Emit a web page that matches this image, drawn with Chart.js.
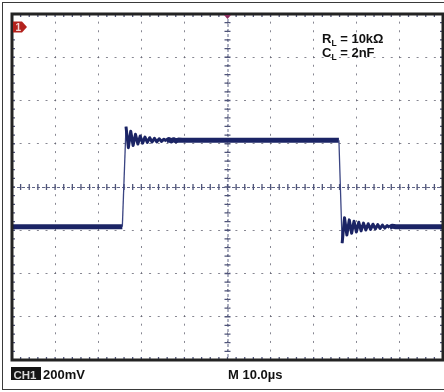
<!DOCTYPE html>
<html>
<head>
<meta charset="utf-8">
<script src="https://cdn.jsdelivr.net/npm/chart.js@4.4.0/dist/chart.umd.min.js"></script>
<style>
html,body{margin:0;padding:0;background:#fff;}
#wrap{width:444px;height:392px;position:relative;}
</style>
</head>
<body>
<div id="wrap"><canvas id="c" width="444" height="392"></canvas></div>
<script>
const timeUs = [0, 25.6, 26.45, 27.0, 27.55, 28.1, 28.65, 29.2, 29.75, 30.3, 30.85, 31.4, 31.95, 32.5, 33.05, 33.6, 34.15, 34.7, 35.25, 35.8, 36.35, 36.9, 37.45, 38.0, 38.6, 39.5,
  75.85, 76.6, 77.15, 77.7, 78.25, 78.8, 79.35, 79.9, 80.45, 81.0, 81.55, 82.1, 82.65, 83.2, 83.75, 84.3, 84.85, 85.4, 85.95, 86.5, 87.05, 87.6, 88.2, 89.0, 100];
const ch1mV = [-184, -184, 279, 182, 258, 192, 244, 199, 236, 203, 231, 206, 228, 208, 225, 209, 223, 211, 221, 212, 220, 213, 219, 214, 217, 216,
  216, -260, -142, -222, -152, -214, -158, -208, -163, -203, -167, -199, -170, -196, -172, -194, -174, -192, -176, -190, -178, -188, -181, -184, -184];
// Axis ranges: 10 horizontal divisions, 8 vertical divisions
const timeTicks = [0, 10, 20, 30, 40, 50, 60, 70, 80, 90, 100];
const voltTicks = [-800, -600, -400, -200, 0, 200, 400, 600, 800];
const labelRL = ["R", "L", " = 10k\u03A9"];
const labelCL = ["C", "L", " = 2nF"];
const chLabel = "CH1";
const voltsPerDiv = "200mV";
const timeBase = "M 10.0\u00B5s";

const points = timeUs.map((t, i) => ({x: t, y: ch1mV[i]}));
const TRACE = '#1b2465';

const scopePlugin = {
  id: 'scope',
  beforeDatasetsDraw(chart) {
    const {ctx, chartArea: a, scales: {x, y}} = chart;
    const cx = x.getPixelForValue(50), cy = y.getPixelForValue(0);
    ctx.save();
    ctx.strokeStyle = '#5f6486';
    ctx.lineWidth = 1;
    ctx.setLineDash([3, 2]);
    ctx.beginPath();
    ctx.moveTo(a.left, cy + 0.5); ctx.lineTo(a.right, cy + 0.5);
    ctx.moveTo(cx + 0.5, a.top); ctx.lineTo(cx + 0.5, a.bottom);
    ctx.stroke();
    ctx.setLineDash([]);
    ctx.strokeStyle = '#50557a';
    ctx.lineWidth = 1.3;
    ctx.beginPath();
    for (let t = 0; t <= 100; t += 2) {
      const px = x.getPixelForValue(t);
      ctx.moveTo(px, cy - 3); ctx.lineTo(px, cy + 3);
      ctx.moveTo(px, a.bottom - 3); ctx.lineTo(px, a.bottom);
      ctx.moveTo(px, a.top); ctx.lineTo(px, a.top + 3);
    }
    for (let v = -800; v <= 800; v += 40) {
      const py = y.getPixelForValue(v);
      ctx.moveTo(cx - 3, py); ctx.lineTo(cx + 3, py);
      ctx.moveTo(a.left, py); ctx.lineTo(a.left + 3, py);
      ctx.moveTo(a.right - 3, py); ctx.lineTo(a.right, py);
    }
    ctx.stroke();
    ctx.restore();
  },
  afterDraw(chart) {
    const {ctx, chartArea: a, scales: {x, y}} = chart;
    ctx.save();
    // outer frame
    ctx.strokeStyle = '#3a3a3a';
    ctx.lineWidth = 1;
    ctx.strokeRect(2.5, 2.5, 446, 387);
    // plot border
    ctx.strokeStyle = '#232323';
    ctx.lineWidth = 3;
    ctx.strokeRect(a.left, a.top, a.right - a.left, a.bottom - a.top);
    // trigger marker
    const cx = x.getPixelForValue(50);
    ctx.fillStyle = '#8c2d5e';
    ctx.beginPath();
    ctx.moveTo(cx - 3.5, a.top + 1); ctx.lineTo(cx + 3.5, a.top + 1); ctx.lineTo(cx, a.top + 5); ctx.closePath();
    ctx.fill();
    // channel marker
    ctx.fillStyle = '#b3221d';
    ctx.beginPath();
    ctx.moveTo(13, 21.5); ctx.lineTo(22, 21.5); ctx.lineTo(27, 27); ctx.lineTo(22, 32.5); ctx.lineTo(13, 32.5); ctx.closePath();
    ctx.fill();
    ctx.fillStyle = '#f4d6d6';
    ctx.font = 'bold 10px "Liberation Sans", Arial, sans-serif';
    ctx.textBaseline = 'alphabetic';
    ctx.fillText('1', 15.5, 31);
    // annotations
    ctx.fillStyle = '#111';
    const sub = (parts, x0, yb) => {
      ctx.font = 'bold 13px "Liberation Sans", Arial, sans-serif';
      ctx.fillText(parts[0], x0, yb);
      let xx = x0 + ctx.measureText(parts[0]).width;
      ctx.font = 'bold 8.5px "Liberation Sans", Arial, sans-serif';
      ctx.fillText(parts[1], xx, yb + 3);
      xx += ctx.measureText(parts[1]).width;
      ctx.font = 'bold 13px "Liberation Sans", Arial, sans-serif';
      ctx.fillText(parts[2], xx, yb);
    };
    sub(labelRL, 322, 43);
    sub(labelCL, 322, 56.5);
    // bottom labels
    ctx.fillStyle = '#141414';
    ctx.fillRect(11, 367, 30, 13);
    ctx.fillStyle = '#d8d8d8';
    ctx.font = 'bold 11.5px "Liberation Sans", Arial, sans-serif';
    ctx.fillText(chLabel, 13.5, 378.5);
    ctx.fillStyle = '#111';
    ctx.font = 'bold 13px "Liberation Sans", Arial, sans-serif';
    ctx.fillText(voltsPerDiv, 43, 379);
    ctx.fillText(timeBase, 228, 379);
    ctx.restore();
  }
};

new Chart(document.getElementById('c'), {
  type: 'line',
  data: {
    datasets: [{
      data: points,
      borderColor: TRACE,
      borderWidth: 5,
      pointRadius: 0,
      tension: 0,
      fill: false,
      borderJoinStyle: 'round',
      segment: {
        borderWidth: (s) => {
          const d = Math.abs(s.p1.parsed.y - s.p0.parsed.y);
          if (d > 300) return 1.3;
          if (d > 8) return 3;
          return 5;
        },
        borderColor: (s) => Math.abs(s.p1.parsed.y - s.p0.parsed.y) > 300 ? '#3a4482' : TRACE
      }
    }]
  },
  options: {
    responsive: false,
    animation: false,
    devicePixelRatio: 1,
    layout: {padding: {left: 12, top: 14, right: 1, bottom: 32}},
    plugins: {legend: {display: false}, tooltip: {enabled: false}},
    scales: {
      x: {
        type: 'linear', min: timeTicks[0], max: timeTicks[timeTicks.length - 1],
        afterBuildTicks: (s) => { s.ticks = timeTicks.map(v => ({value: v})); },
        ticks: {display: false},
        grid: {color: 'rgba(95,95,110,0.75)', lineWidth: 1, drawTicks: false},
        border: {display: false, dash: [2, 6.63], dashOffset: 1}
      },
      y: {
        type: 'linear', min: voltTicks[0], max: voltTicks[voltTicks.length - 1],
        afterBuildTicks: (s) => { s.ticks = voltTicks.map(v => ({value: v})); },
        ticks: {display: false},
        grid: {color: 'rgba(95,95,110,0.75)', lineWidth: 1, drawTicks: false},
        border: {display: false, dash: [2, 6.63], dashOffset: 1}
      }
    }
  },
  plugins: [scopePlugin]
});
</script>
</body>
</html>
